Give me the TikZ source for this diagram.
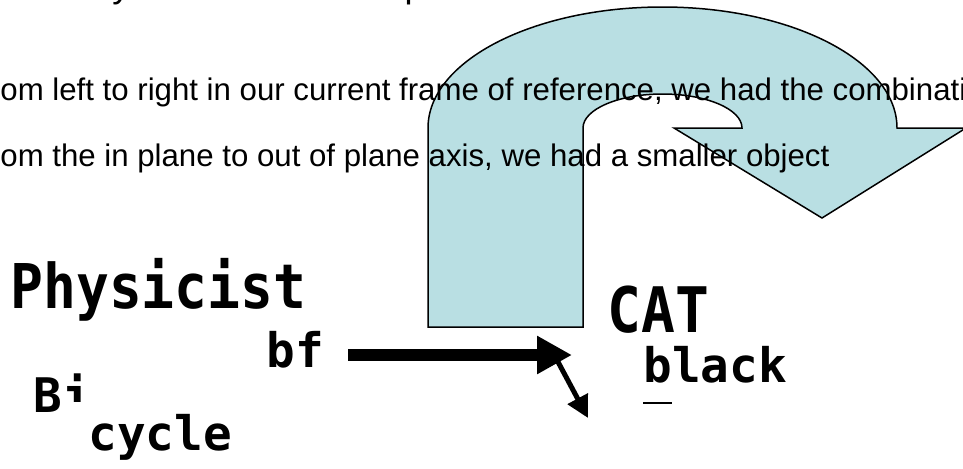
\documentclass[tikz,border=0pt]{standalone}
\usepackage{fontspec}
\setmainfont{Liberation Sans}
\newfontfamily\codefont{DejaVu Sans Mono}
\usepackage{xcolor}
\definecolor{paleteal}{RGB}{185,223,227}
\usepackage{tikz}
\usetikzlibrary{arrows.meta,positioning}
\tikzset{
	body_text/.style={
		inner sep=0pt, anchor=base west, text=black,
		font=\fontsize{15.6}{18}\selectfont
	},
	head_text/.style={body_text, font=\fontsize{18}{21}\selectfont},
	code_label/.style={
		inner sep=0pt, anchor=base west, text=black,
		font=\codefont\bfseries\fontsize{23.8}{26}\selectfont
	},
	code_big/.style={code_label, font=\codefont\bfseries\fontsize{27.3}{30}\selectfont},
	uturn/.style={fill=paleteal, draw=black, line width=0.75pt, line join=miter},
	thick_arrow/.style={-{Triangle[length=17.5pt,width=18pt]}, line width=6pt},
	thin_arrow/.style={-{Triangle[length=11pt,width=11pt]}, line width=2.5pt}
}
\begin{document}
\begin{tikzpicture}[x=0.5pt,y=-0.5pt]
				\clip (0,0) rectangle (963,468);
				\fill[white] (0,0) rectangle (963,468);
				% u-turn arrow behind the text
				\draw[uturn] (428,327) -- (428,128)
					arc[start angle=180, end angle=360, x radius=234.5, y radius=121]
					-- (966,128) -- (822,218) -- (674,128) -- (742,128)
					arc[start angle=0, end angle=-180, x radius=79.5, y radius=34]
					-- (583,327) -- cycle;
				\node[head_text] (intro) at (0,-3) {\llap{Pr}eviously described the experiment};
				\node[body_text] (lineA) at (0,100) {\llap{Fr}om left to right in our current frame of reference, we had the combination};
				\node[body_text] (lineB) at (0,166) {\llap{Fr}om the in plane to out of plane axis, we had a smaller object};
				\node[code_big]   (phys)  at (10,308) {\scalebox{1}[1.13]{Physicist}};
				\node[code_label] (bf)    at (266,367) {bf};
				\node[code_label] (bi)    at (33,412) {Bi};
				\node[code_label] (cyc)   at (88,450) {cycle};
				\node[code_big]   (cat)   at (607,332) {\scalebox{1.03}[1.15]{CAT}};
				\node[code_label] (blk)   at (643,382) {black};
				\fill[white] (60,402) rectangle (96,416);
				\draw[line width=1pt] (643,403) -- (672,403);
				\coordinate (tail)   at (348,355);
				\coordinate (turn)   at (572,355);
				\coordinate (corner) at (557,360);
				\coordinate (drop)   at (588,418);
				\draw[thick_arrow] (tail) -- (turn);
				\draw[thin_arrow] (corner) -- (drop);
			\end{tikzpicture}
\end{document}
